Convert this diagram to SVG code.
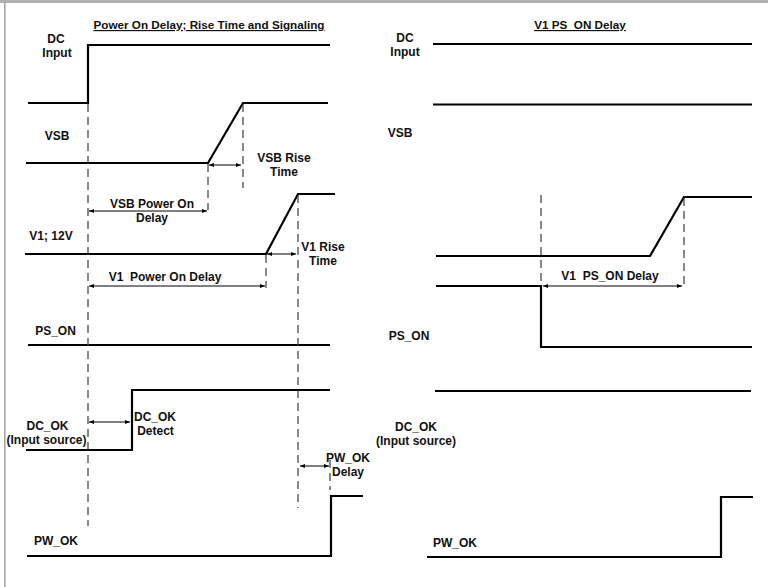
<svg xmlns="http://www.w3.org/2000/svg" width="768" height="587" viewBox="0 0 768 587">
<defs>
<marker id="ah" viewBox="0 0 10 10" refX="10" refY="5" markerWidth="5" markerHeight="5" orient="auto-start-reverse" markerUnits="userSpaceOnUse">
<path d="M0,1 L10,5 L0,9 z" fill="#000"/>
</marker>
<style>
text{font-family:"Liberation Sans",Arial,sans-serif;font-weight:bold;font-size:12px;fill:#111}
.t{font-size:11.7px;text-decoration:underline}
.m{text-anchor:middle}
.sig{fill:none;stroke:#000;stroke-width:2.2;stroke-linejoin:miter}
.dash{fill:none;stroke:#3a3a3a;stroke-width:1.2;stroke-dasharray:8,5}
.dim{fill:none;stroke:#000;stroke-width:1;marker-start:url(#ah);marker-end:url(#ah)}
</style>
</defs>
<rect width="768" height="587" fill="#fff"/>
<rect x="0" y="0" width="768" height="3" fill="#b0b0b0"/>
<rect x="4" y="0" width="1.6" height="587" fill="#a8a8a8"/>

<text class="t m" x="209" y="29">Power On Delay; Rise Time and Signaling</text>
<text class="t m" x="580" y="29">V1 PS_ON Delay</text>

<g id="left-dc-input">
<text class="m" x="56" y="43">DC</text>
<text class="m" x="57" y="57">Input</text>
<polyline class="sig" points="28,103 88,103 88,45 330,45"/>
</g>
<g id="left-vsb">
<text class="m" x="57" y="140">VSB</text>
<polyline class="sig" points="26,163 208,163 243,103 328,103"/>
</g>
<g id="left-v1">
<text class="m" x="51" y="240">V1; 12V</text>
<polyline class="sig" points="25,254 266,254 298,194 335,194"/>
</g>
<g id="left-ps-on">
<text class="m" x="55.5" y="335">PS_ON</text>
<polyline class="sig" points="28,345 330,345"/>
</g>
<g id="left-dc-ok">
<text class="m" x="47.5" y="430">DC_OK</text>
<text class="m" x="46.5" y="444">(Input source)</text>
<polyline class="sig" points="26,450 132,450 132,390 330,390"/>
</g>
<g id="left-pw-ok">
<text class="m" x="56" y="545">PW_OK</text>
<polyline class="sig" points="27,556 331,556 331,496 363,496"/>
</g>

<g id="right-dc-input">
<text class="m" x="405" y="42">DC</text>
<text class="m" x="405" y="56">Input</text>
<polyline class="sig" points="433,44 752,44"/>
</g>
<g id="right-vsb">
<text class="m" x="400" y="137">VSB</text>
<polyline class="sig" points="433,104.5 752,104.5"/>
</g>
<g id="right-v1">
<polyline class="sig" points="436,256 650,256 684,197 752,197"/>
</g>
<g id="right-ps-on">
<text class="m" x="409" y="340">PS_ON</text>
<polyline class="sig" points="436,286 541,286 541,347 752,347"/>
</g>
<g id="right-dc-ok">
<text class="m" x="416" y="431">DC_OK</text>
<text class="m" x="416" y="445">(Input source)</text>
<polyline class="sig" points="435,391 751,391"/>
</g>
<g id="right-pw-ok">
<text class="m" x="455" y="547">PW_OK</text>
<polyline class="sig" points="427,557 721,557 721,497 753,497"/>
</g>

<g id="connectors">
<line class="dash" x1="88" y1="104" x2="88" y2="526"/>
<line class="dash" x1="208" y1="164" x2="208" y2="210"/>
<line class="dash" x1="243" y1="104" x2="243" y2="188"/>
<line class="dash" x1="266" y1="255" x2="266" y2="288"/>
<line class="dash" x1="298" y1="195" x2="298" y2="508"/>
<line class="dash" x1="330" y1="460" x2="330" y2="490"/>
<line class="dash" x1="541" y1="195" x2="541" y2="286"/>
<line class="dash" x1="684" y1="198" x2="684" y2="286"/>

<line class="dim" x1="89" y1="211" x2="207" y2="211"/>
<line class="dim" x1="209" y1="165" x2="241" y2="165"/>
<line class="dim" x1="89" y1="286" x2="265" y2="286"/>
<line class="dim" x1="267" y1="254" x2="296" y2="254"/>
<line class="dim" x1="89" y1="422" x2="130" y2="422"/>
<line class="dim" x1="300" y1="466" x2="329" y2="466"/>
<line class="dim" x1="543" y1="286" x2="682" y2="286"/>

<text class="m" x="284" y="162">VSB Rise</text>
<text class="m" x="284" y="176">Time</text>
<text class="m" x="152" y="208">VSB Power On</text>
<text class="m" x="152" y="222">Delay</text>
<text class="m" x="323" y="251">V1 Rise</text>
<text class="m" x="323" y="265">Time</text>
<text class="m" x="165" y="281" xml:space="preserve">V1  Power On Delay</text>
<text class="m" x="155" y="421">DC_OK</text>
<text class="m" x="155.5" y="435">Detect</text>
<text class="m" x="348" y="462">PW_OK</text>
<text class="m" x="348" y="476">Delay</text>
<text class="m" x="610" y="280" xml:space="preserve">V1  PS_ON Delay</text>
</g>
</svg>
